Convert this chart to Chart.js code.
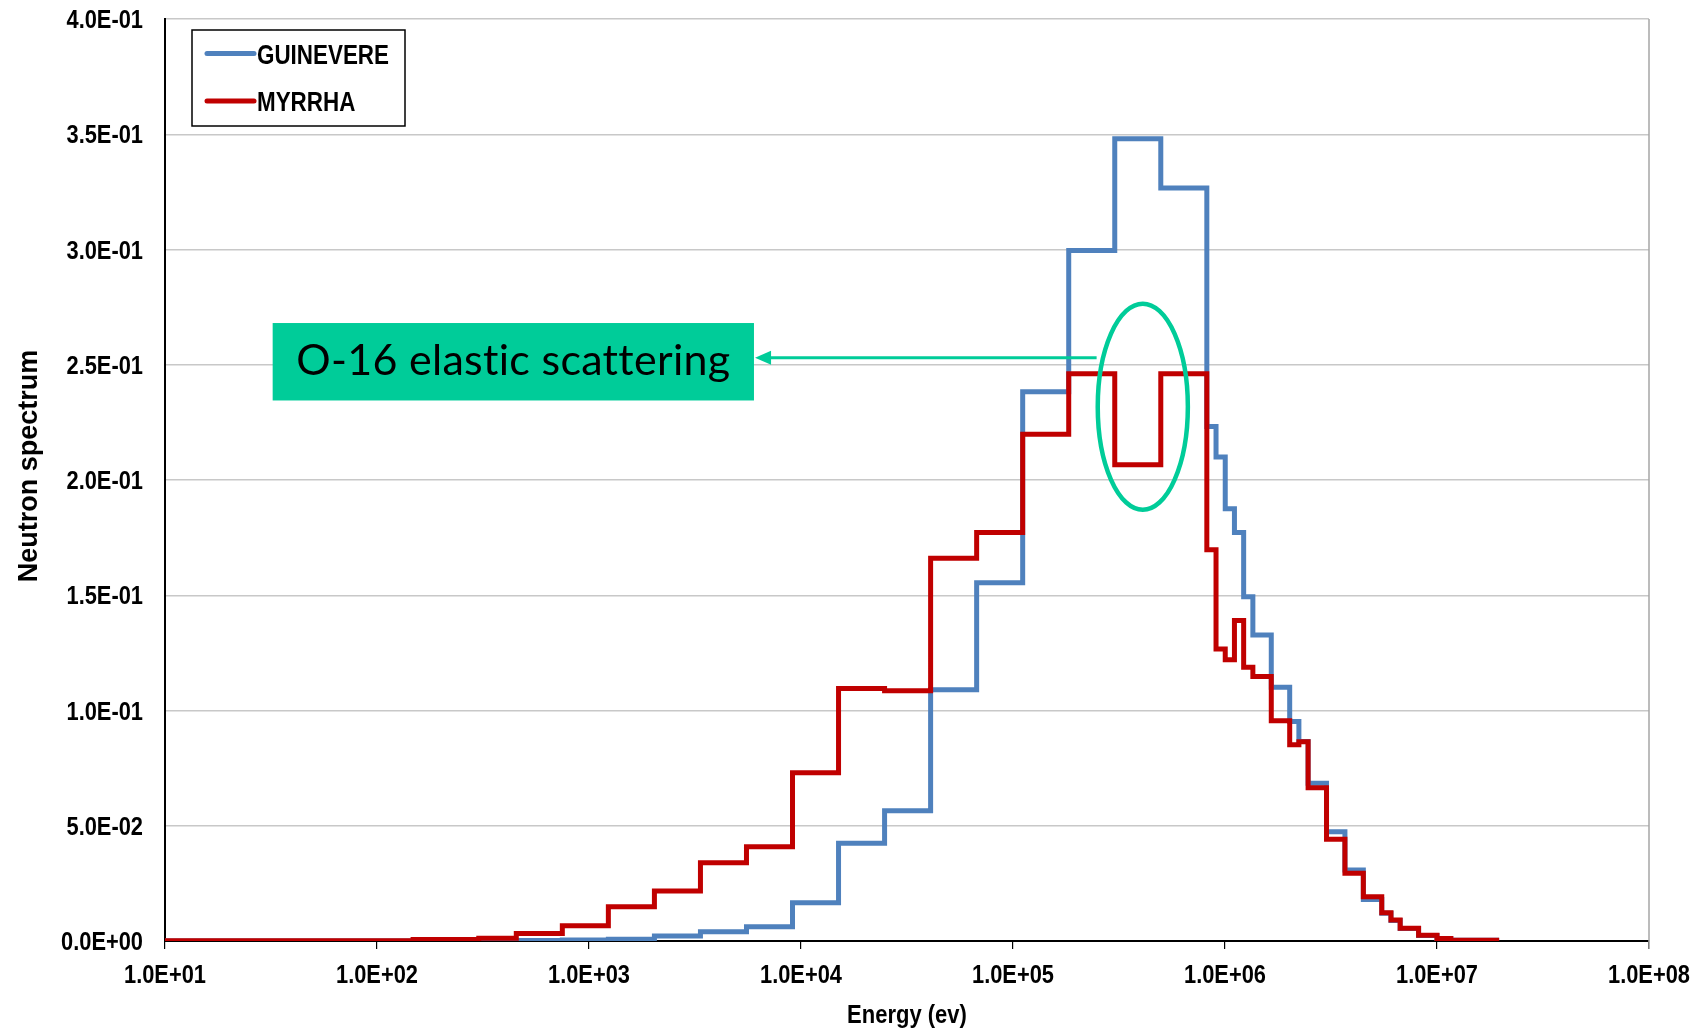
<!DOCTYPE html>
<html>
<head>
<meta charset="utf-8">
<title>Neutron spectrum</title>
<script src="https://cdn.jsdelivr.net/npm/chart.js@4.4.1/dist/chart.umd.min.js"></script>
<style>
  html, body { margin: 0; padding: 0; background: #fff; }
  #graph { display: block; }
</style>
</head>
<body>
<canvas id="graph" width="1702" height="1034"></canvas>
<script>
// group boundaries in eV, low to high (last one is the top edge)
const energyEdges = [
  10, 148, 302, 454, 748.5, 1234, 2035, 3355, 5531, 9119,
  15034, 24788, 40868, 67379, 111090, 183160, 301970, 497870, 820850, 907180,
  1002600, 1108000, 1224600, 1353400, 1653000, 2019000, 2231300, 2466000, 3012000, 3678800,
  4493000, 5488000, 6065300, 6703000, 8187000, 10000000, 11620000, 19640000,
];

// one value per group
const guinevere = [
  0.0000, 0.0000, 0.0001, 0.0002, 0.0004, 0.0008, 0.0022, 0.0040, 0.0062, 0.0166,
  0.0424, 0.0565, 0.1090, 0.1554, 0.2383, 0.2996, 0.3480, 0.3267, 0.2232, 0.2100,
  0.1875, 0.1772, 0.1494, 0.1328, 0.1101, 0.0952, 0.0866, 0.0684, 0.0474, 0.0308,
  0.0180, 0.0120, 0.0089, 0.0054, 0.0024, 0.0010, 0.0003,
];
const myrrha = [
  0.0001, 0.0007, 0.0012, 0.0033, 0.0066, 0.0149, 0.0217, 0.0340, 0.0409, 0.0730,
  0.1095, 0.1086, 0.1660, 0.1772, 0.2199, 0.2461, 0.2066, 0.2461, 0.1697, 0.1267,
  0.1220, 0.1390, 0.1188, 0.1147, 0.0956, 0.0851, 0.0864, 0.0665, 0.0441, 0.0294,
  0.0192, 0.0123, 0.0091, 0.0055, 0.0025, 0.0011, 0.0003,
];

const xTickValues = [1e1, 1e2, 1e3, 1e4, 1e5, 1e6, 1e7, 1e8];
const xTickLabels = ["1.0E+01", "1.0E+02", "1.0E+03", "1.0E+04", "1.0E+05", "1.0E+06", "1.0E+07", "1.0E+08"];
const yTickValues = [0, 0.05, 0.1, 0.15, 0.2, 0.25, 0.3, 0.35, 0.4];
const yTickLabels = ["0.0E+00", "5.0E-02", "1.0E-01", "1.5E-01", "2.0E-01", "2.5E-01", "3.0E-01", "3.5E-01", "4.0E-01"];

const xTitle = "Energy (ev)";
const yTitle = "Neutron spectrum";
const noteText = "O-16 elastic scattering";

const boldFont = '"Liberation Sans", Arial, sans-serif';
const teal = "#00cc99";

// a point at every lower edge, plus the top edge carrying the last value
const toSteps = (values) =>
  energyEdges.map((e, i) => ({ x: e, y: values[Math.min(i, values.length - 1)] }));

// no narrow face is installed, so squeeze the bold sans by hand
const narrowText = (ctx, text, x, y, size, squeeze, align) => {
  ctx.save();
  ctx.font = "bold " + size + "px " + boldFont;
  ctx.textAlign = align;
  ctx.textBaseline = "alphabetic";
  ctx.fillStyle = "#000";
  ctx.translate(x, y);
  ctx.scale(squeeze, 1);
  ctx.fillText(text, 0, 0);
  ctx.restore();
};

const extras = {
  id: "extras",
  afterDatasetsDraw(chart) {
    const { ctx, chartArea, scales } = chart;
    const x = scales.x;
    const y = scales.y;
    ctx.save();

    // right frame
    ctx.strokeStyle = "#a6a6a6";
    ctx.lineWidth = 1.5;
    ctx.beginPath();
    ctx.moveTo(chartArea.right, chartArea.top);
    ctx.lineTo(chartArea.right, chartArea.bottom + 8);
    ctx.stroke();

    // ellipse round the dip
    const l = x.getPixelForValue(2.51e5);
    const r = x.getPixelForValue(6.68e5);
    const t = y.getPixelForValue(0.2765);
    const b = y.getPixelForValue(0.1871);
    ctx.strokeStyle = teal;
    ctx.lineWidth = 4.5;
    ctx.beginPath();
    ctx.ellipse((l + r) / 2, (t + b) / 2, (r - l) / 2, (b - t) / 2, 0, 0, Math.PI * 2);
    ctx.stroke();

    // arrow
    const ay = y.getPixelForValue(0.253);
    const tip = x.getPixelForValue(6.07e3);
    const tail = x.getPixelForValue(2.48e5);
    ctx.lineWidth = 3;
    ctx.beginPath();
    ctx.moveTo(tail, ay);
    ctx.lineTo(tip + 12, ay);
    ctx.stroke();
    ctx.fillStyle = teal;
    ctx.beginPath();
    ctx.moveTo(tip, ay);
    ctx.lineTo(tip + 16, ay - 7);
    ctx.lineTo(tip + 16, ay + 7);
    ctx.closePath();
    ctx.fill();

    // label box
    const bl = x.getPixelForValue(32.2);
    const br = x.getPixelForValue(6.0e3);
    const bt = y.getPixelForValue(0.2681);
    const bb = y.getPixelForValue(0.2345);
    ctx.fillStyle = teal;
    ctx.fillRect(bl, bt, br - bl, bb - bt);
    ctx.fillStyle = "#000";
    ctx.font = '43px Lato, "Open Sans", sans-serif';
    ctx.letterSpacing = "0.3px";
    ctx.textAlign = "center";
    ctx.textBaseline = "alphabetic";
    ctx.fillText(noteText, (bl + br) / 2, bb - 25);

    ctx.restore();
  },
  afterDraw(chart) {
    const { ctx, chartArea, scales } = chart;

    // tick labels
    yTickValues.forEach((v, i) => {
      narrowText(ctx, yTickLabels[i], chartArea.left - 22, scales.y.getPixelForValue(v) + 9, 26, 0.84, "right");
    });
    xTickValues.forEach((v, i) => {
      narrowText(ctx, xTickLabels[i], scales.x.getPixelForValue(v), chartArea.bottom + 41.5, 26, 0.84, "center");
    });

    // axis titles
    narrowText(ctx, xTitle, (chartArea.left + chartArea.right) / 2, chartArea.bottom + 81.5, 25, 0.88, "center");
    ctx.save();
    ctx.font = "bold 27px " + boldFont;
    ctx.fillStyle = "#000";
    ctx.textAlign = "center";
    ctx.textBaseline = "alphabetic";
    ctx.translate(37, chartArea.top + 447);
    ctx.rotate(-Math.PI / 2);
    ctx.fillText(yTitle, 0, 0);
    ctx.restore();

    // legend
    const left = chartArea.left + 27;
    const top = chartArea.top + 11;
    ctx.save();
    ctx.fillStyle = "#fff";
    ctx.fillRect(left, top, 213, 96);
    ctx.strokeStyle = "#000";
    ctx.lineWidth = 1.5;
    ctx.strokeRect(left, top, 213, 96);
    chart.data.datasets.forEach((ds, i) => {
      const ly = top + 23.5 + i * 47.4;
      ctx.strokeStyle = ds.borderColor;
      ctx.lineWidth = 5;
      ctx.lineCap = "round";
      ctx.beginPath();
      ctx.moveTo(left + 15, ly);
      ctx.lineTo(left + 62, ly);
      ctx.stroke();
      narrowText(ctx, ds.label, left + 65, ly + 10, 27, 0.83, "left");
    });
    ctx.restore();
  },
};

const ctx = document.getElementById("graph").getContext("2d");

new Chart(ctx, {
  type: "line",
  data: {
    datasets: [
      {
        label: "GUINEVERE",
        data: toSteps(guinevere),
        borderColor: "#4f81bd",
        borderWidth: 5,
        stepped: true,
        pointRadius: 0,
        borderJoinStyle: "miter",
        order: 1,
      },
      {
        label: "MYRRHA",
        data: toSteps(myrrha),
        borderColor: "#c00000",
        borderWidth: 5,
        stepped: true,
        pointRadius: 0,
        borderJoinStyle: "miter",
        order: 0,
      },
    ],
  },
  options: {
    responsive: false,
    animation: false,
    devicePixelRatio: 1,
    layout: { padding: { left: 0, top: 19, right: 53, bottom: 0 } },
    plugins: {
      legend: { display: false },
      tooltip: { enabled: false },
    },
    scales: {
      x: {
        type: "logarithmic",
        min: 10,
        max: 1e8,
        afterBuildTicks: (scale) => {
          scale.ticks = xTickValues.map((v) => ({ value: v }));
        },
        afterFit: (scale) => {
          scale.height = 93;
          scale.paddingLeft = 0;
          scale.paddingRight = 0;
        },
        ticks: { display: false },
        grid: {
          drawOnChartArea: false,
          drawTicks: true,
          tickLength: 8,
          color: "#000",
          lineWidth: 1.2,
        },
        border: { color: "#000", width: 2 },
      },
      y: {
        min: 0,
        max: 0.4,
        afterBuildTicks: (scale) => {
          scale.ticks = yTickValues.map((v) => ({ value: v }));
        },
        afterFit: (scale) => {
          scale.width = 165;
          scale.paddingTop = 0;
          scale.paddingBottom = 0;
        },
        ticks: { display: false },
        grid: {
          drawTicks: false,
          color: "#c8c8c8",
          lineWidth: 1.5,
        },
        border: { color: "#000", width: 2 },
      },
    },
  },
  plugins: [extras],
});
</script>
</body>
</html>
